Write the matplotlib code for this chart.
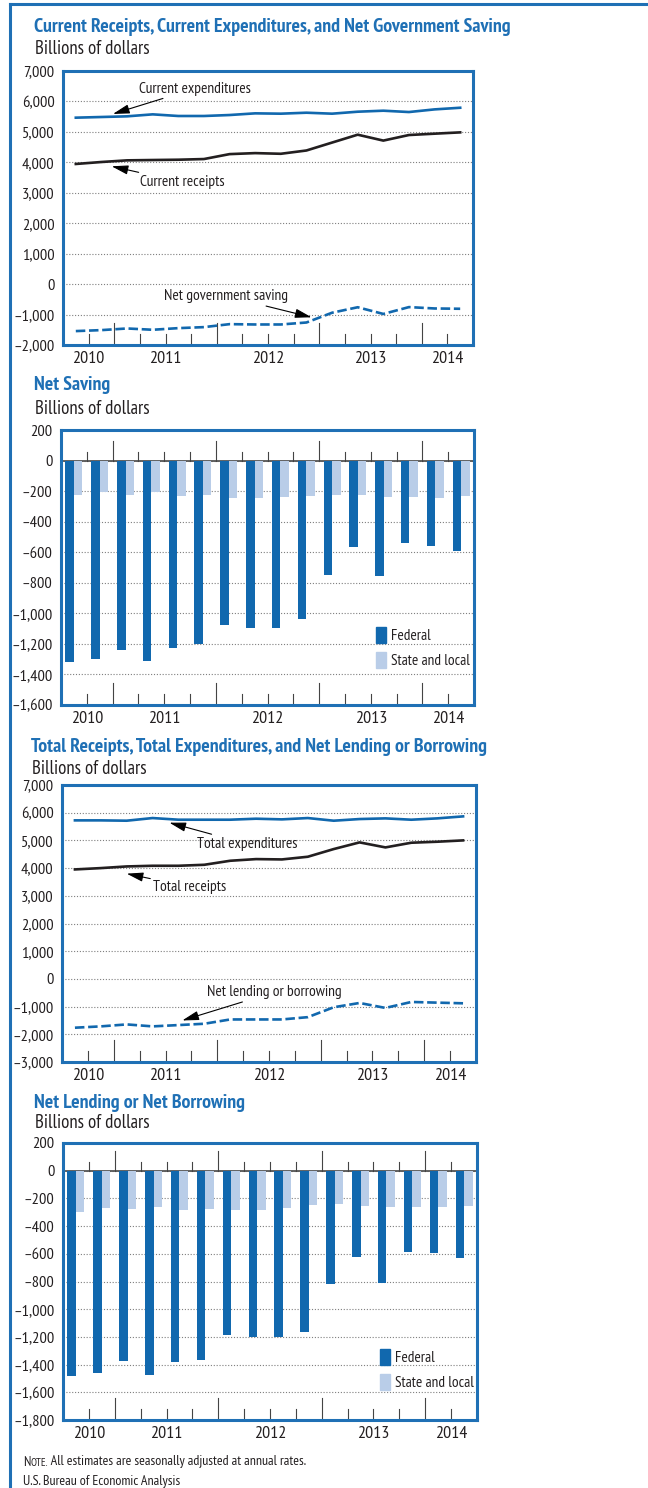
import matplotlib
matplotlib.use("Agg")
import matplotlib.pyplot as plt
from matplotlib import font_manager
from matplotlib.patches import Patch
from matplotlib.lines import Line2D
from matplotlib.ticker import FuncFormatter

# ---- data (billions of dollars, seasonally adjusted annual rates) ----
quarters = ["2010Q3", "2010Q4", "2011Q1", "2011Q2", "2011Q3", "2011Q4",
            "2012Q1", "2012Q2", "2012Q3", "2012Q4", "2013Q1", "2013Q2",
            "2013Q3", "2013Q4", "2014Q1", "2014Q2"]
years = ["2010", "2011", "2012", "2013", "2014"]

current_expenditures = [5467, 5489, 5511, 5576, 5522, 5522, 5554, 5609,
                        5598, 5630, 5598, 5663, 5696, 5652, 5739, 5793]
current_receipts = [3946, 4011, 4065, 4076, 4086, 4108, 4270, 4303,
                    4281, 4389, 4649, 4908, 4714, 4897, 4941, 4984]
net_gov_saving = [-1543, -1511, -1457, -1500, -1446, -1413, -1315, -1326,
                  -1326, -1261, -940, -760, -980, -755, -800, -810]

net_saving_federal = [-1321, -1302, -1237, -1315, -1230, -1199, -1075, -1099,
                      -1099, -1040, -746, -563, -753, -537, -556, -589]
net_saving_state = [-226, -209, -226, -204, -232, -226, -243, -243,
                    -237, -230, -226, -226, -237, -237, -243, -230]

total_expenditures = [5723, 5723, 5711, 5807, 5747, 5747, 5747, 5783,
                      5759, 5807, 5711, 5771, 5795, 5747, 5795, 5867]
total_receipts = [3952, 4000, 4060, 4084, 4084, 4120, 4265, 4325,
                  4313, 4410, 4687, 4928, 4747, 4916, 4952, 5000]
net_lending = [-1762, -1714, -1643, -1714, -1667, -1619, -1464, -1464,
               -1464, -1381, -1024, -869, -1048, -833, -857, -881]

lending_federal = [-1483, -1459, -1372, -1473, -1379, -1365, -1187, -1201,
                   -1201, -1165, -819, -622, -810, -586, -595, -629]
lending_state = [-298, -269, -276, -262, -283, -276, -283, -283,
                 -269, -247, -240, -254, -262, -262, -262, -254]

# ---- fonts: a condensed face if one is there ----
fonts = {}
for f in font_manager.fontManager.ttflist:
    fonts.setdefault(f.name, set()).add(f.weight)
FONT, k = "Liberation Sans", 0.78
for cand in ["PT Sans Narrow", "Liberation Sans Narrow", "Arial Narrow", "Archivo Narrow",
             "Roboto Condensed", "Fira Sans Condensed", "IBM Plex Sans Condensed"]:
    if cand in fonts and 700 in fonts[cand] and 400 in fonts[cand]:
        FONT, k = cand, 1.0
        break
plt.rcParams["font.family"] = [FONT, "DejaVu Sans"]

BLUE = "#1168ae"
LIGHT = "#b9cde8"
FRAME = "#1f70b5"
BLACK = "#231f20"
TEXT = "#231f20"

W, H = 648, 1488
fig = plt.figure(figsize=(W / 100, H / 100), dpi=100)


def fx(px):
    return px / W


def fy(py):
    return 1 - py / H


def make_axes(left, right, top, bottom):
    return fig.add_axes([fx(left), fy(bottom), (right - left) / W, (bottom - top) / H])


def fmt(v, pos):
    s = f"{abs(v):,.0f}"
    return "\u2013" + s if v < 0 else s


x = list(range(len(quarters)))
year_bounds = [i - 0.5 for i, q in enumerate(quarters) if q.endswith("Q1")]
qtr_bounds = [i + 0.5 for i in range(len(quarters) - 1)]
year_pos = []
for y in years:
    idx = [i for i, q in enumerate(quarters) if q.startswith(y)]
    year_pos.append((idx[0] + idx[-1]) / 2)


def style(ax, ymin, ymax, step, height_px, zero_ticks=False):
    ax.set_xlim(-0.5, len(quarters) - 0.5)
    ax.set_ylim(ymin, ymax)
    ax.set_yticks(range(ymin, ymax + 1, step))
    ax.yaxis.set_major_formatter(FuncFormatter(fmt))
    ax.tick_params(axis="y", length=0, pad=6, labelsize=11.8 * k, labelcolor=TEXT)
    for s in ax.spines.values():
        s.set_color(FRAME)
        s.set_linewidth(2.2)
    ax.set_axisbelow(True)
    for v in range(ymin + step, ymax, step):
        ax.axhline(v, color="#7f7f7f", lw=0.8, ls=(0, (1, 1.6)), zorder=0)
    # year labels
    ax.set_xticks(year_pos)
    ax.set_xticklabels(years)
    ax.tick_params(axis="x", length=0, pad=4, labelsize=13 * k, labelcolor=TEXT)
    # quarter ticks on the bottom
    tr = ax.get_xaxis_transform()
    short, long_ = 11 / height_px, 22 / height_px
    for b in qtr_bounds:
        ax.plot([b, b], [0, long_ if b in year_bounds else short],
                transform=tr, color="#444444", lw=0.8, zorder=1, clip_on=False)
    if zero_ticks:
        per_px = (ymax - ymin) / height_px
        ax.axhline(0, color="#555555", lw=1.3, zorder=1)
        for b in qtr_bounds:
            ln = (20 if b in year_bounds else 9) * per_px
            ax.plot([b, b], [0, ln], color="#444444", lw=0.8, zorder=1)


def header(px, py_title, py_sub, title):
    fig.text(fx(px), fy(py_title), title, color=FRAME, fontsize=14.3 * k,
             fontweight="bold", va="center", ha="left")
    fig.text(fx(px + 1), fy(py_sub), "Billions of dollars", color=TEXT,
             fontsize=13.5 * k, va="center", ha="left")


arrow = dict(arrowstyle="-|>,head_length=0.9,head_width=0.25", color="black",
             lw=0.8, shrinkA=0, shrinkB=0)
ann_kw = dict(fontsize=11.2 * k, color=TEXT, va="center", arrowprops=arrow)

# ---- panel 1 ----
header(34, 27, 49, "Current Receipts, Current Expenditures, and Net Government Saving")
ax1 = make_axes(63, 473, 71, 345)
style(ax1, -2000, 7000, 1000, 274)
ax1.plot(x, current_expenditures, color=BLUE, lw=1.9, zorder=3)
ax1.plot(x, current_receipts, color=BLACK, lw=1.9, zorder=3)
ax1.plot(x, net_gov_saving, color=BLUE, lw=1.9, ls=(0, (3.6, 1.4)), zorder=3)
ax1.annotate("Current expenditures", xy=(1.45, 5590), xytext=(2.45, 6420), ha="left", **ann_kw)
ax1.annotate("Current receipts", xy=(1.4, 3870), xytext=(2.5, 3350), ha="left", **ann_kw)
ax1.annotate("Net government saving", xy=(9.2, -1090), xytext=(8.3, -400), ha="right", **ann_kw)

# ---- panel 2 ----
header(34, 385, 409, "Net Saving")
ax2 = make_axes(61, 474, 430, 705)
style(ax2, -1600, 200, 200, 275, zero_ticks=True)
bw = 0.33
ax2.bar([i - bw / 2 for i in x], net_saving_federal, width=bw, color=BLUE, zorder=2)
ax2.bar([i + bw / 2 for i in x], net_saving_state, width=bw, color=LIGHT, zorder=2)

legend_handles = [Patch(color=BLUE, label="Federal"), Patch(color=LIGHT, label="State and local")]


def legend(ax, x0, y0):
    ax.legend(handles=legend_handles, loc="upper left", bbox_to_anchor=(x0, y0),
              frameon=False, fontsize=11 * k, handlelength=0.65, handleheight=1.25,
              handletextpad=0.35, labelspacing=0.55, borderpad=0, borderaxespad=0,
              labelcolor=TEXT)


legend(ax2, (376 - 61) / 413, (705 - 627) / 275)

# ---- panel 3 ----
header(31, 747, 769, "Total Receipts, Total Expenditures, and Net Lending or Borrowing")
ax3 = make_axes(62, 476, 785, 1062)
style(ax3, -3000, 7000, 1000, 277)
ax3.plot(x, total_expenditures, color=BLUE, lw=1.9, zorder=3)
ax3.plot(x, total_receipts, color=BLACK, lw=1.9, zorder=3)
ax3.plot(x, net_lending, color=BLUE, lw=1.9, ls=(0, (3.6, 1.4)), zorder=3)
ax3.annotate("Total expenditures", xy=(3.65, 5640), xytext=(4.72, 4870), ha="left", **ann_kw)
ax3.annotate("Total receipts", xy=(2.0, 3800), xytext=(3.02, 3320), ha="left", **ann_kw)
ax3.annotate("Net lending or borrowing", xy=(4.15, -1500), xytext=(5.1, -480), ha="left", **ann_kw)

# ---- panel 4 ----
header(34, 1103, 1123, "Net Lending or Net Borrowing")
ax4 = make_axes(63, 477, 1143, 1420)
style(ax4, -1800, 200, 200, 277, zero_ticks=True)
ax4.bar([i - bw / 2 for i in x], lending_federal, width=bw, color=BLUE, zorder=2)
ax4.bar([i + bw / 2 for i in x], lending_state, width=bw, color=LIGHT, zorder=2)
legend(ax4, (380 - 63) / 414, (1420 - 1349) / 277)

# ---- notes ----
t1 = fig.text(fx(23), fy(1462), "N", fontsize=10 * k, color=TEXT, va="center", ha="left")
n2 = plt.annotate("OTE.", xy=(1, 0), xycoords=t1, fontsize=7.8 * k, color=TEXT,
                  va="bottom", ha="left")
plt.annotate(" All estimates are seasonally adjusted at annual rates.", xy=(1, 0), xycoords=n2,
             fontsize=10 * k, color=TEXT, va="bottom", ha="left")
fig.text(fx(23), fy(1482), "U.S. Bureau of Economic Analysis", fontsize=10 * k, color=TEXT,
         va="center", ha="left")

# open blue frame (left and top)
fig.add_artist(Line2D([fx(10), fx(10)], [0, fy(4)], color=FRAME, lw=2.2))
fig.add_artist(Line2D([fx(10), 1], [fy(4), fy(4)], color=FRAME, lw=2.2))

fig.savefig("out.png", dpi=100)
